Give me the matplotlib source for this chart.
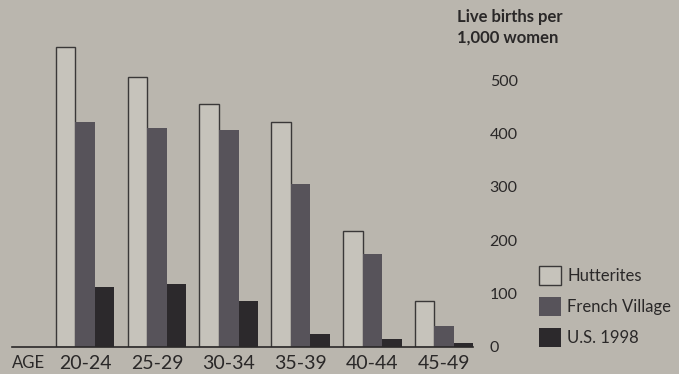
import numpy as np
import matplotlib.pyplot as plt

plt.rcParams['font.family'] = ['Lato', 'DejaVu Sans']

# 数据
age_groups = ['20-24', '25-29', '30-34', '35-39', '40-44', '45-49']
series = ['Hutterites', 'French Village', 'U.S. 1998']
hutterites = [562, 507, 455, 421, 217, 86]
french_village = [421, 410, 406, 305, 174, 39]
us_1998 = [112, 118, 86, 24, 15, 8]
y_ticks = [0, 100, 200, 300, 400, 500]

bg = '#bab6ae'
colors = ['#c6c3bb', '#57535a', '#2c292c']

W, H = 679, 374
fig = plt.figure(figsize=(W / 100, H / 100), dpi=100, facecolor=bg)
ax = fig.add_axes([12 / W, (H - 347) / H, 461 / W, 320 / H])
ax.set_facecolor(bg)

x = np.arange(len(age_groups))
w = 0.272
ax.bar(x - w, hutterites, w, color=colors[0], edgecolor='#3a3838', linewidth=1.0, label=series[0])
ax.bar(x, french_village, w, color=colors[1], linewidth=0, label=series[1])
ax.bar(x + w, us_1998, w, color=colors[2], linewidth=0, label=series[2])

ax.set_xlim(-1.017, 5.40)
ax.set_ylim(0, 600)

for s in ['top', 'left', 'right']:
    ax.spines[s].set_visible(False)
ax.spines['bottom'].set_color('#2a2828')
ax.spines['bottom'].set_linewidth(1.2)

ax.set_xticks(x)
ax.set_xticklabels(age_groups, fontsize=14, color='#2a2828')
ax.tick_params(axis='x', length=0, pad=6)

ax.yaxis.tick_right()
ax.set_yticks(y_ticks)
ax.set_yticklabels([str(v) for v in y_ticks], fontsize=11.5, color='#2a2828')
ax.tick_params(axis='y', length=0, pad=12)

fig.text(12 / W, 1 - 363 / H, 'AGE', fontsize=12, color='#2a2828', va='center', ha='left')
fig.text(457 / W, 1 - 17 / H, 'Live births per', fontsize=12, fontweight='bold',
         color='#2a2828', va='center', ha='left')
fig.text(457 / W, 1 - 38 / H, '1,000 women', fontsize=12, fontweight='bold',
         color='#2a2828', va='center', ha='left')

fig.legend(loc='upper left', bbox_to_anchor=(539 / W, 1 - 266 / H), frameon=False,
           fontsize=12, handlelength=1.3, handleheight=1.4, handletextpad=0.4,
           labelspacing=0.7, borderpad=0, borderaxespad=0, labelcolor='#2a2828')

fig.savefig('out.png', dpi=100, facecolor=bg)
